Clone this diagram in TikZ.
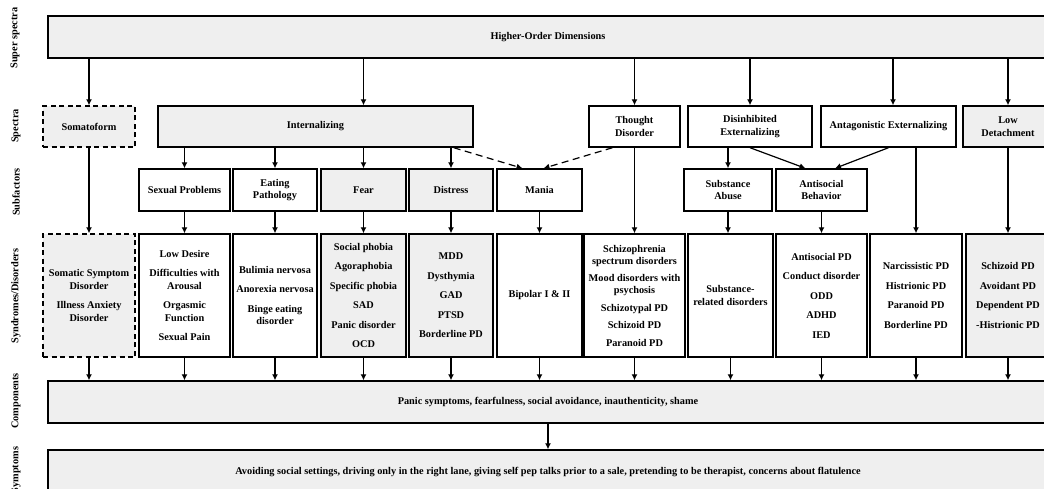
\documentclass[tikz,border=0pt]{standalone}
\usepackage{fontspec}
\setmainfont{Liberation Serif}
\usetikzlibrary{arrows.meta}
\definecolor{boxgray}{RGB}{239,239,239}

\tikzset{
  box/.style={draw, line width=1.4pt, align=center, inner sep=1pt,
    font=\fontsize{10.3}{12.5}\selectfont\bfseries},
  gbox/.style={box, fill=boxgray},
  wbox/.style={box, fill=white},
  dbox/.style={gbox, dash pattern=on 5pt off 3.5pt},
  arr/.style={-{Latex[length=6pt,width=6pt]}, line width=1.2pt},
  darr/.style={arr, dash pattern=on 7pt off 4.5pt},
  rowlabel/.style={rotate=90, font=\fontsize{10.3}{12}\selectfont\bfseries}
}

\begin{document}
\begin{tikzpicture}[x=1pt,y=-1pt]
\useasboundingbox (0,0) rectangle (1044,488);
\clip (0,0) rectangle (1044,488);

% row labels
\node[rowlabel] (lsuper) at (15,38) {Super spectra};
\node[rowlabel] (lspectra) at (16,126) {Spectra};
\node[rowlabel] (lsub) at (16,192) {Subfactors};
\node[rowlabel] (lsyn) at (16,296) {Syndromes/Disorders};
\node[rowlabel] (lcomp) at (16,401) {Components};
\node[rowlabel] (lsymp) at (16,470) {Symptoms};

% super spectra
\node[gbox, minimum width=1000pt, minimum height=42pt] (hod) at (548,37) {Higher-Order Dimensions};

% spectra
\node[dbox, minimum width=92pt, minimum height=41pt] (soma) at (89,126.5) {Somatoform};
\node[gbox, minimum width=315pt, minimum height=41pt] (intl) at (315.5,126.5) {Internalizing};
\node[wbox, minimum width=91pt, minimum height=41pt] (thought) at (634.5,126.5) {Thought\\Disorder};
\node[wbox, minimum width=124pt, minimum height=41pt] (disinh) at (750,126.5) {Disinhibited\\Externalizing};
\node[wbox, minimum width=135pt, minimum height=41pt] (antag) at (888.5,126.5) {Antagonistic Externalizing};
\node[gbox, minimum width=90pt, minimum height=41pt] (lowdet) at (1008,126.5) {Low\\Detachment};

% subfactors
\node[wbox, minimum width=91pt, minimum height=42pt] (sexual) at (184.5,190) {Sexual Problems};
\node[wbox, minimum width=84pt, minimum height=42pt] (eating) at (275,190) {Eating\\Pathology};
\node[gbox, minimum width=85pt, minimum height=42pt] (fear) at (363.5,190) {Fear};
\node[gbox, minimum width=84pt, minimum height=42pt] (distress) at (451,190) {Distress};
\node[wbox, minimum width=85pt, minimum height=42pt] (mania) at (539.5,190) {Mania};
\node[wbox, minimum width=88pt, minimum height=42pt] (subst) at (728,190) {Substance\\Abuse};
\node[wbox, minimum width=91pt, minimum height=42pt] (antisoc) at (821.5,190) {Antisocial\\Behavior};

% syndromes / disorders
\node[dbox, minimum width=92pt, minimum height=123pt] (somatic) at (89,295.5)
  {Somatic Symptom\\Disorder\\[7pt]Illness Anxiety\\Disorder};
\node[wbox, minimum width=91pt, minimum height=123pt] (lowdes) at (184.5,295.5)
  {Low Desire\\[7pt]Difficulties with\\Arousal\\[7pt]Orgasmic\\Function\\[7pt]Sexual Pain};
\node[wbox, minimum width=84pt, minimum height=123pt] (bulim) at (275,295.5)
  {Bulimia nervosa\\[7pt]Anorexia nervosa\\[7pt]Binge eating\\disorder};
\node[gbox, minimum width=85pt, minimum height=123pt] (phob) at (363.5,295.5)
  {Social phobia\\[7pt]Agoraphobia\\[7pt]Specific phobia\\[7pt]SAD\\[7pt]Panic disorder\\[7pt]OCD};
\node[gbox, minimum width=84pt, minimum height=123pt] (mdd) at (451,295.5)
  {MDD\\[7pt]Dysthymia\\[7pt]GAD\\[7pt]PTSD\\[7pt]Borderline PD};
\node[wbox, minimum width=85pt, minimum height=123pt] (bipolar) at (539.5,295.5) {Bipolar I \& II};
\node[wbox, minimum width=101pt, minimum height=123pt] (schizo) at (634.5,295.5)
  {Schizophrenia\\spectrum disorders\\[4pt]Mood disorders with\\psychosis\\[5pt]Schizotypal PD\\[5pt]Schizoid PD\\[5pt]Paranoid PD};
\node[wbox, minimum width=85pt, minimum height=123pt] (substrel) at (730.5,295.5) {Substance-\\related disorders};
\node[wbox, minimum width=91pt, minimum height=123pt] (aspd) at (821.5,295.5)
  {Antisocial PD\\[7pt]Conduct disorder\\[7pt]ODD\\[7pt]ADHD\\[7pt]IED};
\node[wbox, minimum width=92pt, minimum height=123pt] (narc) at (916,295.5)
  {Narcissistic PD\\[7pt]Histrionic PD\\[7pt]Paranoid PD\\[7pt]Borderline PD};
\node[gbox, minimum width=84pt, minimum height=123pt] (schizoid) at (1008,295.5)
  {Schizoid PD\\[7pt]Avoidant PD\\[7pt]Dependent PD\\[7pt]-Histrionic PD};

% components and symptoms
\node[gbox, minimum width=1000pt, minimum height=42pt] (comp) at (548,402)
  {Panic symptoms, fearfulness, social avoidance, inauthenticity, shame};
\node[gbox, minimum width=1000pt, minimum height=44pt] (symp) at (548,472)
  {Avoiding social settings, driving only in the right lane, giving self pep talks prior to a sale, pretending to be therapist, concerns about flatulence};

% super spectra -> spectra
\draw[arr] (soma |- hod.south) -- (soma);
\draw[arr] (fear |- hod.south) -- (fear |- intl.north);
\draw[arr] (thought |- hod.south) -- (thought);
\draw[arr] (disinh |- hod.south) -- (disinh);
\draw[arr] ([xshift=4.5pt]antag.north |- hod.south) -- ([xshift=4.5pt]antag.north);
\draw[arr] (lowdet |- hod.south) -- (lowdet);

% spectra -> subfactors
\foreach \n in {sexual,eating,fear,distress}
  \draw[arr] (\n |- intl.south) -- (\n);
\draw[darr] ([xshift=-20pt]intl.south east) -- ([xshift=-17pt]mania.north);
\draw[darr] ([xshift=-22pt]thought.south) -- ([xshift=4pt]mania.north);
\draw[arr] (subst |- disinh.south) -- (subst);
\draw[arr] (disinh.south) -- ([xshift=-16pt]antisoc.north);
\draw[arr] (antag.south) -- ([xshift=13.5pt]antisoc.north);

% spectra -> syndromes
\draw[arr] (soma) -- (somatic);
\draw[arr] (thought) -- (schizo);
\draw[arr] (narc |- antag.south) -- (narc);
\draw[arr] (lowdet) -- (schizoid);

% subfactors -> syndromes
\draw[arr] (sexual) -- (lowdes);
\draw[arr] (eating) -- (bulim);
\draw[arr] (fear) -- (phob);
\draw[arr] (distress) -- (mdd);
\draw[arr] (mania) -- (bipolar);
\draw[arr] (subst) -- (subst |- substrel.north);
\draw[arr] (antisoc) -- (aspd);

% syndromes -> components
\foreach \n in {somatic,lowdes,bulim,phob,mdd,bipolar,schizo,substrel,aspd,narc,schizoid}
  \draw[arr] (\n) -- (\n |- comp.north);
\draw[arr] (comp) -- (symp);
\end{tikzpicture}
\end{document}
